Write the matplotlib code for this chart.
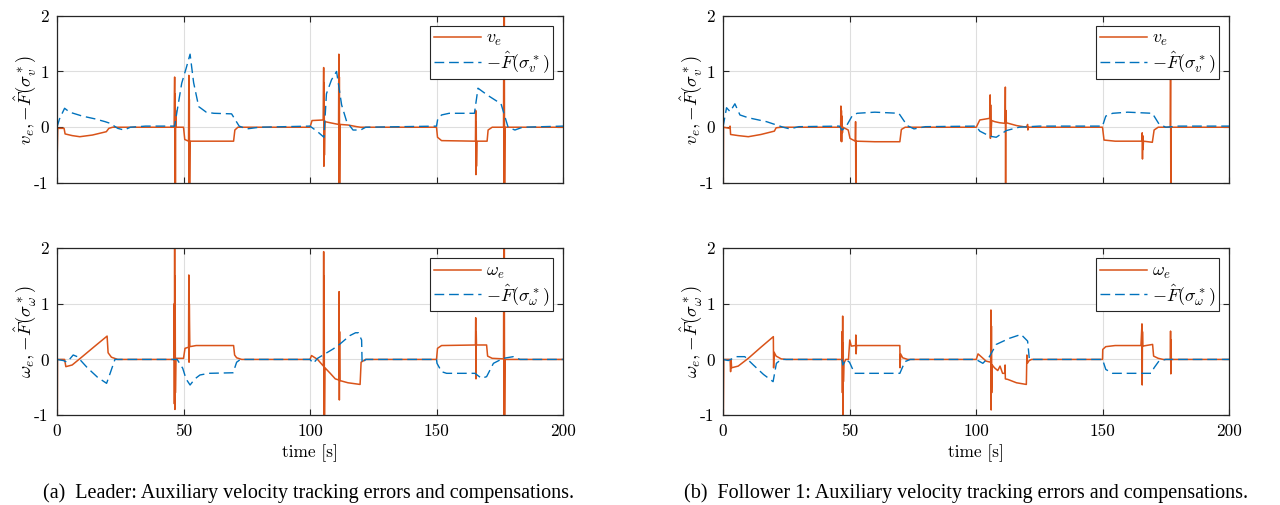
import numpy as np
from matplotlib import pyplot as plt

plt.rcParams['mathtext.fontset'] = 'cm'
plt.rcParams['axes.unicode_minus'] = False

ORANGE = '#D95319'
BLUE = '#0072BD'

xticks = [0, 50, 100, 150, 200]
xticklabels = ['0', '50', '100', '150', '200']
yticks = [-1, 0, 1, 2]
yticklabels = ['-1', '0', '1', '2']

# (a) leader, top: v_e
t_ve_a = [0, 0.1, 0.3, 2.8, 3.2, 6, 9, 14, 19.5, 20.5, 22, 46.3, 46.5, 46.6, 46.7, 46.8, 46.9, 47.1,
          50.0, 50.5, 52.0, 52.1, 52.2, 52.3, 52.4, 52.6, 60, 69.8, 70.3, 71.5, 100, 100.8, 105.2,
          105.4, 105.5, 105.6, 105.7, 105.9, 108, 111.3, 111.4, 111.5, 111.6, 111.7, 111.9, 115,
          118.5, 120, 150, 150.4, 152, 165.4, 165.5, 165.6, 165.7, 165.8, 166, 170, 170.4, 172,
          176.5, 176.6, 176.7, 176.8, 176.9, 177.1, 200]
ve_a = [2.2, -0.45, -0.02, -0.02, -0.12, -0.15, -0.17, -0.14, -0.08, -0.02, 0.0, 0.0, 0.9, -1.2, 0.6,
        -1.2, 0.3, 0.0, 0.0, -0.22, -0.25, 0.93, -1.2, 0.5, -1.2, -0.25, -0.25, -0.25, -0.05, 0.0,
        0.0, 0.12, 0.13, 1.07, -0.7, 0.8, -0.5, 0.1, 0.08, 0.05, 1.31, -1.2, 0.9, -1.2, 0.05, 0.04,
        0.01, 0.0, 0.0, -0.18, -0.24, -0.25, 0.3, -0.85, 0.1, -0.7, -0.25, -0.25, -0.05, 0.0,
        0.0, 2.2, -1.2, 2.2, -1.2, 0.0, 0.0]
t_fv_a = [0, 1, 3.0, 5, 10, 15, 19, 21, 24, 26.5, 29, 35, 46.5, 47.5, 49.3, 51, 52.6, 54, 56, 59,
          62, 69, 72, 75, 80, 100, 103, 105.5, 106.5, 108.5, 110.5, 112.5, 114.5, 117, 120, 122,
          150, 150.5, 152, 155, 165, 166.4, 168.5, 171, 175.5, 178.3, 181, 184, 200]
fv_a = [0.0, 0.15, 0.34, 0.27, 0.2, 0.15, 0.1, 0.07, -0.02, -0.05, 0.0, 0.02, 0.02, 0.3, 0.79, 1.05,
        1.31, 0.8, 0.37, 0.27, 0.25, 0.24, 0.02, -0.03, 0.0, 0.02, -0.08, -0.18, 0.6, 0.85, 1.0,
        0.4, 0.1, -0.05, -0.05, 0.0, 0.02, 0.15, 0.22, 0.25, 0.25, 0.7, 0.63, 0.55, 0.42, 0.0,
        -0.05, 0.0, 0.02]

# (a) leader, bottom: omega_e
t_we_a = [0, 0.1, 0.2, 3, 3.5, 6, 10, 15, 19.8, 20.2, 21.5, 24, 46.2, 46.3, 46.4, 46.5, 46.6, 46.7,
          46.8, 47.0, 50.0, 50.6, 52.0, 52.1, 52.2, 52.3, 52.5, 55, 69.8, 70.2, 71, 73, 100, 100.6,
          103, 105.3, 105.4, 105.5, 105.6, 105.7, 105.9, 108, 110, 111.4, 111.5, 111.6, 111.7,
          111.8, 115, 119.8, 120.2, 122, 150, 150.4, 152, 165.4, 165.5, 165.6, 165.7, 165.8,
          169.8, 170.2, 172, 176.5, 176.6, 176.7, 176.8, 176.9, 177.1, 200]
we_a = [0.42, -1.2, 0.0, 0.0, -0.13, -0.1, 0.05, 0.24, 0.42, 0.12, 0.04, 0.0, 0.0, 1.0, -0.8, 2.2,
        -0.9, 1.5, -0.6, 0.02, 0.02, 0.2, 0.22, 1.52, -0.05, 1.0, 0.23, 0.25, 0.25, 0.08, 0.03,
        0.0, 0.0, 0.07, 0.0, -0.12, 1.94, -1.2, 1.5, -1.2, -0.15, -0.25, -0.35, -0.37, 1.22, -0.73,
        0.5, -0.38, -0.42, -0.45, -0.05, 0.0, 0.0, 0.2, 0.25, 0.26, 0.75, -0.35, 0.5, 0.26, 0.26,
        0.06, 0.02, 0.01, 2.2, -1.2, 2.2, -1.2, 0.0, 0.0]
t_fw_a = [0, 2.5, 4, 6.4, 8, 12, 16, 19.6, 21, 22.9, 30, 47.5, 49.7, 51, 52.6, 54.5, 56.5, 60, 69.6,
          71, 72.5, 100, 101.3, 103, 105.9, 109.2, 111.9, 115.8, 118, 119.1, 120.4, 120.6, 122,
          150, 150.2, 152, 154, 165.2, 167.8, 169.8, 172.5, 176.4, 180.4, 183, 200]
fw_a = [0.0, -0.02, -0.05, 0.08, 0.05, -0.15, -0.32, -0.43, -0.25, 0.0, 0.0, 0.0, -0.16, -0.35,
        -0.46, -0.35, -0.28, -0.25, -0.24, -0.05, 0.0, 0.0, -0.07, 0.02, 0.1, 0.19, 0.28, 0.43,
        0.48, 0.48, 0.35, -0.07, 0.0, 0.0, -0.07, -0.22, -0.25, -0.25, -0.34, -0.31, -0.07, 0.02,
        0.05, 0.0, 0.0]

# (b) follower 1, top: v_e
t_ve_b = [0, 0.1, 0.2, 2.6, 2.8, 3.0, 6, 10, 15, 20.3, 21, 23, 46.5, 46.6, 46.7, 46.8, 46.9, 47.0,
          47.2, 47.4, 49.5, 50.2, 52.3, 52.4, 52.5, 52.6, 60, 69.9, 70.5, 72, 100.1, 101.5, 105.4,
          105.6, 105.7, 105.8, 105.9, 106.2, 107.4, 109.4, 111.5, 111.6, 111.7, 111.8, 112, 116,
          120, 120.4, 120.5, 120.7, 150, 150.6, 155, 165.6, 165.7, 165.8, 165.9, 166.0, 166.2,
          169.7, 170.4, 172, 176.8, 176.9, 177.0, 177.1, 200]
ve_b = [0.5, -1.2, 0.0, -0.02, 0.02, -0.13, -0.15, -0.17, -0.13, -0.07, -0.01, 0.0, 0.0, 0.38,
        -0.25, 0.3, -0.26, 0.2, -0.1, 0.0, -0.05, -0.2, -0.25, 0.1, -1.2, -0.25, -0.26, -0.26,
        -0.04, 0.0, 0.0, 0.13, 0.16, 0.58, -0.2, 0.4, -0.15, 0.12, 0.1, 0.08, 0.07, 0.72, -1.2,
        0.3, 0.08, 0.03, 0.0, 0.05, -0.05, 0.0, 0.0, -0.23, -0.25, -0.25, -0.1, -0.57, -0.15, -0.4,
        -0.25, -0.27, -0.05, 0.0, 0.0, 0.9, -1.2, 0.0, 0.0]
t_fv_b = [0, 1.4, 2.8, 4.7, 6.7, 10, 17.2, 23.8, 26.4, 30, 46, 47, 48.5, 51, 53, 60, 69.5, 72.8,
          75.5, 80, 100, 101.5, 105.4, 108, 112, 117, 125, 150, 151.3, 154, 160, 169.7, 172.3,
          175, 180, 200]
fv_b = [0.0, 0.35, 0.28, 0.42, 0.22, 0.17, 0.1, 0.0, -0.03, 0.01, 0.02, -0.05, 0.0, 0.2, 0.25,
        0.27, 0.25, 0.03, -0.03, 0.01, 0.02, -0.07, -0.16, -0.18, -0.06, 0.0, 0.02, 0.02, 0.2,
        0.25, 0.27, 0.25, 0.06, 0.0, 0.02, 0.02]

# (b) follower 1, bottom: omega_e
t_we_b = [0, 0.1, 0.3, 2.8, 3.0, 3.2, 3.4, 6, 10, 15, 19.9, 20.0, 20.2, 21, 23, 25, 47.0, 47.1,
          47.2, 47.3, 47.4, 47.5, 47.6, 47.8, 48.5, 49.6, 50.1, 50.7, 52.4, 52.5, 52.6, 52.8, 60,
          69.9, 70.0, 70.2, 71, 73, 100.1, 100.8, 104, 105.8, 105.9, 106.0, 106.1, 106.2, 106.4,
          107.3, 108.6, 109.5, 110.5, 111.4, 111.5, 111.6, 112.6, 116, 119.9, 120.1, 120.3, 121,
          122, 150, 150.1, 151.3, 155, 165.2, 165.6, 165.7, 165.8, 165.9, 169.8, 170.2, 172, 174,
          176.8, 176.9, 177.0, 177.1, 177.2, 200]
we_b = [2.2, -1.2, 0.0, 0.0, -0.22, 0.0, -0.15, -0.12, 0.02, 0.22, 0.41, -0.15, 0.13, 0.06, 0.01,
        0.0, 0.0, 0.5, -0.6, 0.78, -1.2, 0.3, -0.4, -0.07, 0.0, 0.0, 0.35, 0.24, 0.25, 0.44, 0.1,
        0.25, 0.25, 0.25, -0.15, 0.1, 0.03, 0.0, 0.0, 0.1, -0.03, -0.05, 0.89, -0.91, 0.6, -0.6,
        -0.1, -0.15, -0.2, -0.12, -0.25, -0.25, -0.1, -0.35, -0.36, -0.42, -0.45, 0.08, -0.07,
        -0.02, 0.0, 0.0, 0.18, 0.23, 0.25, 0.25, 0.64, -0.46, 0.5, 0.24, 0.27, 0.06, 0.02, 0.0,
        0.0, 0.51, -0.26, 0.35, 0.0, 0.0]
t_fw_b = [0, 2.1, 5.3, 8.6, 12, 16, 19.8, 21.1, 23, 47, 47.4, 48.5, 50, 52, 60, 69.9, 71.9, 74, 100,
          102.7, 105.3, 108, 113.2, 117.8, 120.4, 121.1, 125, 150, 151.3, 154, 169.2, 170.4,
          172.3, 175, 200]
fw_b = [0.0, -0.02, 0.05, 0.05, -0.1, -0.27, -0.4, -0.07, 0.0, 0.0, -0.1, 0.0, -0.05, -0.25, -0.25,
        -0.25, -0.04, 0.0, 0.0, -0.07, 0.05, 0.27, 0.38, 0.45, 0.33, 0.0, 0.0, 0.0, -0.18, -0.25,
        -0.25, -0.15, -0.03, 0.0, 0.0]


def panel(fig, rect, t1, y1, t2, y2, lab1, lab2, ylab, bottom):
    ax = fig.add_axes(rect)
    ax.plot(t1, y1, color=ORANGE, lw=1.1, label=lab1)
    ax.plot(t2, y2, color=BLUE, lw=1.0, dashes=(7, 3.5), label=lab2)
    ax.set_xlim(0, 200)
    ax.set_ylim(-1, 2)
    ax.set_xticks(xticks)
    ax.set_yticks(yticks)
    ax.set_yticklabels(yticklabels, fontsize=12.5, family='cmr10')
    if bottom:
        ax.set_xticklabels(xticklabels, fontsize=12.5, family='cmr10')
        ax.set_xlabel('time [s]', fontsize=12.5, family='cmr10', labelpad=4)
    else:
        ax.set_xticklabels([])
    ax.set_ylabel(ylab, fontsize=13.5)
    ax.yaxis.set_label_coords(-0.038, 0.5)
    ax.grid(True, color='#dedede', lw=0.8)
    ax.set_axisbelow(True)
    ax.tick_params(direction='in', top=True, right=True, length=4.5, width=0.8,
                   color='#262626', pad=6)
    for s in ax.spines.values():
        s.set_color('#262626')
        s.set_linewidth(0.9)
    leg = ax.legend(loc='upper right', fontsize=13, fancybox=False, framealpha=1,
                    edgecolor='#262626', handlelength=2.6, borderaxespad=0.55,
                    borderpad=0.2, labelspacing=0.05, handletextpad=0.3)
    leg.get_frame().set_linewidth(0.8)
    return ax


fig = plt.figure(figsize=(12.8, 5.05), dpi=100)

lx, rx, w = 57 / 1280, 723 / 1280, 506 / 1280
top_b, top_h = 1 - 183 / 505, 167.3 / 505
bot_b, bot_h = 1 - 415 / 505, 166.7 / 505

lab_v = r'$-\hat{F}(\sigma_v^*)$'
lab_w = r'$-\hat{F}(\sigma_\omega^*)$'
ylab_v = r'$v_e, {-}\hat{F}(\sigma_v^*)$'
ylab_w = r'$\omega_e, {-}\hat{F}(\sigma_\omega^*)$'

panel(fig, [lx, top_b, w, top_h], t_ve_a, ve_a, t_fv_a, fv_a, r'$v_e$', lab_v, ylab_v, False)
panel(fig, [lx, bot_b, w, bot_h], t_we_a, we_a, t_fw_a, fw_a, r'$\omega_e$', lab_w, ylab_w, True)
panel(fig, [rx, top_b, w, top_h], t_ve_b, ve_b, t_fv_b, fv_b, r'$v_e$', lab_v, ylab_v, False)
panel(fig, [rx, bot_b, w, bot_h], t_we_b, we_b, t_fw_b, fw_b, r'$\omega_e$', lab_w, ylab_w, True)

fig.text(309 / 1280, 1 - 493 / 505, '(a)  Leader: Auxiliary velocity tracking errors and compensations.',
         ha='center', va='center', fontsize=14.5, family='Liberation Serif')
fig.text(966 / 1280, 1 - 493 / 505, '(b)  Follower 1: Auxiliary velocity tracking errors and compensations.',
         ha='center', va='center', fontsize=14.5, family='Liberation Serif')

fig.savefig('out.png', dpi=100)
plt.close()
